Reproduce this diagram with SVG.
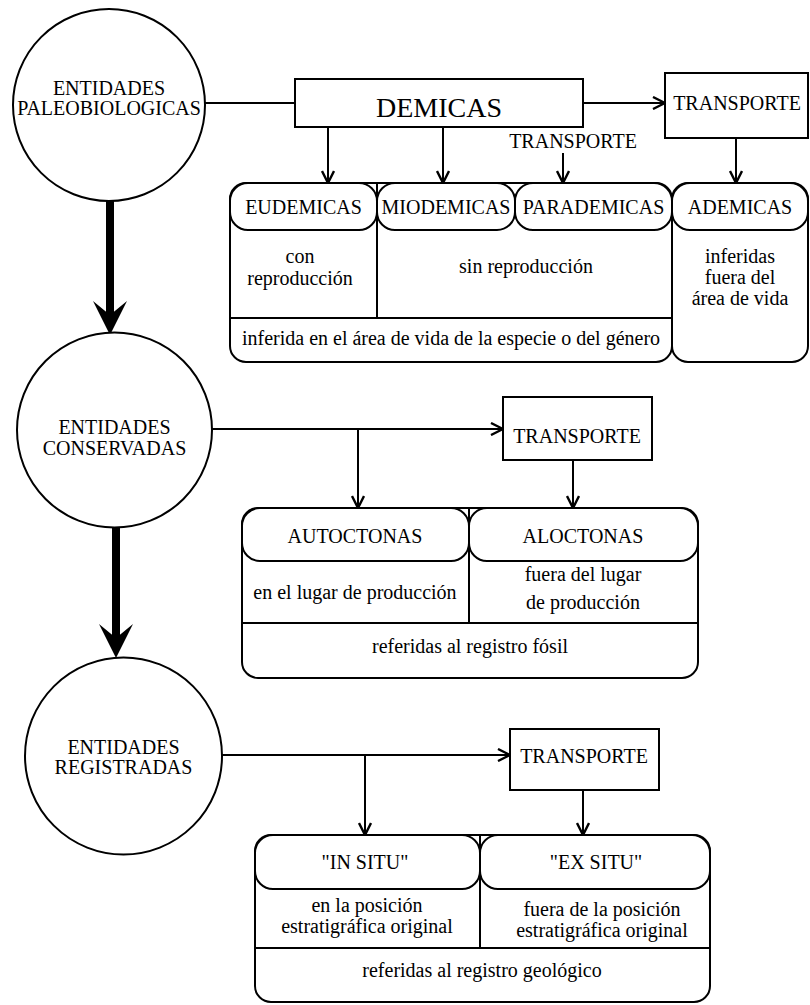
<svg xmlns="http://www.w3.org/2000/svg" width="810" height="1005" viewBox="0 0 810 1005">
<style>
.ln{fill:none;stroke:#000;stroke-width:2}
.bx{fill:#fff;stroke:#000;stroke-width:2}
.pl{fill:#fff;stroke:#000;stroke-width:2}
.th{fill:none;stroke:#000;stroke-width:8}
text{font-family:"Liberation Serif","Times New Roman",serif;font-size:20px;fill:#000;text-anchor:middle}
.big{font-size:28px}
</style>
<defs>
<marker id="ah" viewBox="0 0 14 14" refX="13" refY="7" markerWidth="14" markerHeight="14" markerUnits="userSpaceOnUse" orient="auto">
<path d="M1,1 L13,7 L1,13" fill="none" stroke="#000" stroke-width="2.4"/>
</marker>
</defs>
<rect width="810" height="1005" fill="#fff"/>

<g id="connectors">
<line class="ln" x1="205" y1="103" x2="295" y2="103"/>
<line class="ln" x1="583" y1="103" x2="665" y2="103" marker-end="url(#ah)"/>
<line class="ln" x1="328" y1="127" x2="328" y2="183" marker-end="url(#ah)"/>
<line class="ln" x1="443" y1="127" x2="443" y2="183" marker-end="url(#ah)"/>
<line class="ln" x1="563" y1="153" x2="563" y2="183" marker-end="url(#ah)"/>
<line class="ln" x1="736" y1="138" x2="736" y2="183" marker-end="url(#ah)"/>
<line class="ln" x1="212" y1="429" x2="503" y2="429" marker-end="url(#ah)"/>
<line class="ln" x1="358" y1="429" x2="358" y2="508" marker-end="url(#ah)"/>
<line class="ln" x1="573" y1="460" x2="573" y2="508" marker-end="url(#ah)"/>
<line class="ln" x1="222" y1="755" x2="510" y2="755" marker-end="url(#ah)"/>
<line class="ln" x1="365" y1="755" x2="365" y2="835" marker-end="url(#ah)"/>
<line class="ln" x1="583" y1="790" x2="583" y2="835" marker-end="url(#ah)"/>
<line class="th" x1="110" y1="201" x2="110" y2="318"/>
<path d="M110,335 L93,301 L110,315 L127,301 Z" fill="#000"/>
<line class="th" x1="116" y1="527" x2="116" y2="642"/>
<path d="M116,658 L99,624 L116,638 L133,624 Z" fill="#000"/>
<text x="573" y="148">TRANSPORTE</text>
</g>

<g id="paleobiologicas">
<circle class="bx" cx="109" cy="105" r="96"/>
<text x="109" y="95">ENTIDADES</text>
<text x="109" y="115">PALEOBIOLOGICAS</text>
</g>
<g id="conservadas">
<circle class="bx" cx="114.5" cy="430" r="97.5"/>
<text x="114.5" y="434">ENTIDADES</text>
<text x="114.5" y="455">CONSERVADAS</text>
</g>
<g id="registradas">
<circle class="bx" cx="123.5" cy="756" r="98.5"/>
<text x="123.5" y="754">ENTIDADES</text>
<text x="123.5" y="774">REGISTRADAS</text>
</g>

<g id="demicas">
<rect class="bx" x="295" y="79" width="288" height="48"/>
<text class="big" x="439" y="117">DEMICAS</text>
</g>
<g id="transporte1">
<rect class="bx" x="665" y="73" width="143" height="65"/>
<text x="737" y="110">TRANSPORTE</text>
</g>

<g id="demicas-types">
<rect class="bx" x="230" y="183" width="442" height="179" rx="16"/>
<line class="ln" x1="377" y1="183" x2="377" y2="318"/>
<line class="ln" x1="230" y1="318" x2="672" y2="318"/>
<rect class="pl" x="230" y="183" width="147" height="47" rx="18"/>
<rect class="pl" x="377" y="183" width="138" height="47" rx="18"/>
<rect class="pl" x="515" y="183" width="157" height="47" rx="18"/>
<text x="303.5" y="214">EUDEMICAS</text>
<text x="446" y="214">MIODEMICAS</text>
<text x="593.5" y="214">PARADEMICAS</text>
<text x="300" y="263">con</text>
<text x="300" y="285">reproducción</text>
<text x="526" y="273">sin reproducción</text>
<text x="451" y="345">inferida en el área de vida de la especie o del género</text>
</g>
<g id="ademicas">
<rect class="bx" x="672" y="183" width="136" height="179" rx="16"/>
<rect class="pl" x="672" y="183" width="136" height="47" rx="18"/>
<text x="740" y="214">ADEMICAS</text>
<text x="740" y="263">inferidas</text>
<text x="740" y="284">fuera del</text>
<text x="740" y="305">área de vida</text>
</g>

<g id="transporte2">
<rect class="bx" x="503" y="397" width="149" height="63"/>
<text x="577" y="443">TRANSPORTE</text>
</g>
<g id="conservadas-types">
<rect class="bx" x="242" y="508" width="456" height="170" rx="16"/>
<line class="ln" x1="469" y1="508" x2="469" y2="623"/>
<line class="ln" x1="242" y1="623" x2="698" y2="623"/>
<rect class="pl" x="242" y="508" width="227" height="53" rx="18"/>
<rect class="pl" x="469" y="508" width="229" height="53" rx="18"/>
<text x="355" y="543">AUTOCTONAS</text>
<text x="583" y="543">ALOCTONAS</text>
<text x="355" y="599">en el lugar de producción</text>
<text x="583" y="581">fuera del lugar</text>
<text x="583" y="609">de producción</text>
<text x="470" y="653">referidas al registro fósil</text>
</g>

<g id="transporte3">
<rect class="bx" x="510" y="729" width="149" height="61"/>
<text x="584" y="763">TRANSPORTE</text>
</g>
<g id="registradas-types">
<rect class="bx" x="255" y="835" width="455" height="167" rx="16"/>
<line class="ln" x1="480" y1="835" x2="480" y2="948"/>
<line class="ln" x1="255" y1="948" x2="710" y2="948"/>
<rect class="pl" x="255" y="835" width="225" height="54" rx="18"/>
<rect class="pl" x="480" y="835" width="230" height="54" rx="18"/>
<text x="365" y="869">"IN SITU"</text>
<text x="596" y="869">"EX SITU"</text>
<text x="367" y="912">en la posición</text>
<text x="367" y="933">estratigráfica original</text>
<text x="602" y="916">fuera de la posición</text>
<text x="602" y="937">estratigráfica original</text>
<text x="482" y="977">referidas al registro geológico</text>
</g>
</svg>
